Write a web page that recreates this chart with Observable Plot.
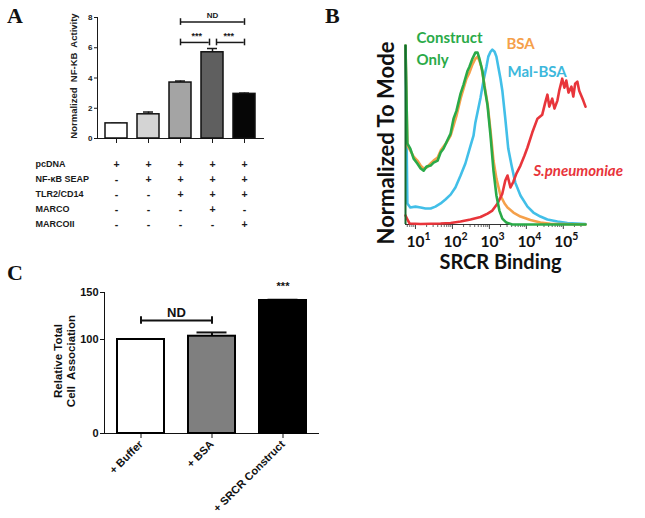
<!DOCTYPE html>
<html><head><meta charset="utf-8">
<script src="https://cdn.jsdelivr.net/npm/d3@7"></script>
<script src="https://cdn.jsdelivr.net/npm/@observablehq/plot@0.6"></script>
<style>
html,body{margin:0;padding:0;background:#fff;overflow:hidden;}
#fig{position:relative;width:645px;height:518px;overflow:hidden;background:#fff;}
.panel{position:absolute;}
.letter{position:absolute;font-family:"Liberation Serif","Times New Roman",serif;font-weight:bold;font-size:22px;line-height:1;color:#111;}
</style></head>
<body><div id="fig">
<div id="pa" class="panel" style="left:0;top:0"></div>
<div id="pt" class="panel" style="left:0;top:145px"></div>
<div id="pb" class="panel" style="left:340px;top:0"></div>
<div id="pc" class="panel" style="left:0;top:270px"></div>
<div class="letter" style="left:7px;top:5px">A</div>
<div class="letter" style="left:325px;top:5px">B</div>
<div class="letter" style="left:7px;top:262px">C</div>
</div>
<script>
// ---------- Panel A data ----------
const aGroups = ["G1","G2","G3","G4","G5"];
const aValues = [1.0, 1.6, 3.7, 5.7, 2.95];
const aErrors = [0.0, 0.15, 0.1, 0.25, 0.05];
const aYTicks = [0, 2, 4, 6, 8];
const aYLabel = "Normalized  NF-KB  Activity";
const tableRows = ["pcDNA", "NF-κB SEAP", "TLR2/CD14", "MARCO", "MARCOII"];
const tableSigns = [
  ["+","+","+","+","+"],
  ["-","+","+","+","+"],
  ["-","-","+","+","+"],
  ["-","-","-","+","-"],
  ["-","-","-","-","+"]
];
// ---------- Panel B data (x as log10 exponent, y as % of mode) ----------
const greenE = [0.73,0.78,0.86,0.95,1.05,1.14,1.22,1.30,1.41,1.49,1.60,1.68,1.76,1.86,1.95,2.03,2.11,2.22,2.30,2.41,2.46,2.54,2.62,2.68,2.73,2.81,2.86,2.95,3.03,3.11,3.19,3.27,3.35,3.46,3.62,5.60];
const greenV = [103,46.6,43.7,37.9,35.1,32.2,31.0,33.3,33.9,35.6,36.8,41.4,43.7,48.3,52.3,60.9,65.5,75.3,80.5,88.5,90.8,95.4,98.9,98.9,95.4,88.5,79.9,68.4,51.1,31.0,16.7,8.0,3.4,1.1,0,0];
const orangeE = [0.73,0.78,0.86,0.95,1.05,1.14,1.22,1.30,1.41,1.49,1.60,1.68,1.76,1.84,1.95,2.03,2.11,2.22,2.30,2.38,2.46,2.54,2.62,2.68,2.73,2.78,2.84,2.89,2.95,3.03,3.11,3.19,3.30,3.41,3.49,3.65,3.84,4.11,4.38,4.65,5.60];
const orangeV = [103,45.4,42.5,39.1,36.8,33.9,32.2,32.8,35.1,36.8,38.5,42.5,44.8,47.1,51.1,56.9,62.6,72.4,78.2,83.9,87.4,92.0,95.4,96.6,94.3,90.8,83.9,77.0,69.5,54.0,36.8,26.4,16.7,12.1,9.8,6.9,4.6,2.6,1.1,0.4,0];
const blueE = [0.73,0.78,0.86,1.0,1.14,1.27,1.41,1.54,1.68,1.81,1.95,2.08,2.22,2.35,2.49,2.57,2.62,2.70,2.76,2.84,2.92,2.97,3.03,3.08,3.14,3.19,3.24,3.30,3.35,3.43,3.51,3.60,3.70,3.84,4.03,4.19,4.38,4.57,4.84,5.11,5.60];
const blueV = [103,12.1,9.8,10.3,9.8,9.2,9.2,10.3,12.1,14.4,17.2,21.3,28.2,35.1,45.4,51.1,58.6,66.7,73.0,82.8,90.8,96.6,99.4,100.6,99.4,96.6,90.8,83.9,77.0,60.9,43.7,33.9,24.1,16.7,10.3,6.9,4.6,2.9,1.7,0.9,0.3];
const redE = [0.73,0.78,0.84,1.14,1.68,1.95,2.22,2.49,2.76,2.95,3.08,3.22,3.35,3.43,3.49,3.57,3.65,3.73,3.84,3.95,4.03,4.16,4.30,4.43,4.51,4.57,4.62,4.70,4.76,4.84,4.89,4.97,5.03,5.08,5.14,5.22,5.27,5.32,5.38,5.43,5.54,5.60];
const redV = [5.2,2.9,0.6,0.3,0.6,0.9,1.7,2.9,4.3,6.3,8.0,12.1,17.8,25.3,28.2,21.3,24.7,29.3,33.9,39.7,44.3,52.9,60.9,63.2,70.1,74.7,67.8,72.4,66.7,71.3,77.0,83.9,78.7,82.8,75.9,79.3,73.6,81.0,82.2,77.0,71.3,67.8];
const bMajorTicks = [10, 100, 1000, 10000, 100000];
const bLabels = ["Construct", "Only", "BSA", "Mal-BSA"];
const bLabelE = [1.03, 1.03, 3.46, 3.49];
const bLabelV = [107.2, 94.8, 104, 87.9];
const bSpnLabel = "S.pneumoniae";
// ---------- Panel C data ----------
const cGroups = ["+ Buffer", "+ BSA", "+ SRCR Construct"];
const cValues = [100, 103.5, 141.5];
const cErrors = [0, 4, 0.8];
const cYTicks = [0, 100, 150];

// ---------- styling ----------
const aPalette = ["#ffffff","#d4d4d4","#a4a4a4","#5f5f5f","#060606"];
const cPalette = ["#ffffff","#7f7f7f","#000000"];
const arial = "'Liberation Sans', Arial, sans-serif";
const lato = "Lato, 'Open Sans', sans-serif";
const GREEN = "#2aaa48", ORANGE = "#f5a04a", BLUE = "#42bfe8", RED = "#e8353b", DKGREEN = "#17692c";

// ---------- Panel A ----------
const aData = aGroups.map((g, i) => ({g, v: aValues[i], e: aErrors[i]}));
const aHalf = 11.25;
const A = Plot.plot({
  width: 290, height: 150,
  marginLeft: 97, marginRight: 27, marginTop: 17, marginBottom: 12,
  style: {background: "transparent", overflow: "visible", fontFamily: arial, fontSize: "8px", fontWeight: "bold", color: "#1a1a1a"},
  x: {type: "band", domain: aGroups, paddingInner: 0.31, paddingOuter: 0.2, tickSize: 5, tickFormat: () => "", label: null, line: true},
  y: {domain: [0, 8], ticks: aYTicks, tickSize: 3, tickPadding: 2, label: null, line: true},
  color: {domain: aGroups, range: aPalette},
  marks: [
    Plot.ruleX(aData, {x: "g", y1: "v", y2: d => d.v + d.e, strokeWidth: 1.5}),
    Plot.tickY(aData, {x: "g", y: d => d.v + d.e, insetLeft: 6, insetRight: 6, strokeWidth: 1.5}),
    Plot.barY(aData, {x: "g", y: "v", fill: "g", stroke: "#111", strokeWidth: 1.5}),
    // brackets
    Plot.ruleY([7.7], {x1: () => "G3", x2: () => "G5", insetLeft: aHalf, insetRight: aHalf, strokeWidth: 1.5}),
    Plot.ruleY([6.35], {x1: () => "G3", x2: () => "G4", insetLeft: aHalf, insetRight: aHalf + 3, strokeWidth: 1.5}),
    Plot.ruleY([6.35], {x1: () => "G4", x2: () => "G5", insetLeft: aHalf + 4, insetRight: aHalf, strokeWidth: 1.5}),
    Plot.ruleX(["G3", "G5"], {x: d => d, y1: 7.48, y2: 7.92, strokeWidth: 1.5}),
    Plot.ruleX(["G3", "G5"], {x: d => d, y1: 6.13, y2: 6.57, strokeWidth: 1.5}),
    Plot.ruleX(["G4"], {x: d => d, y1: 6.13, y2: 6.57, dx: -3, strokeWidth: 1.5}),
    Plot.ruleX(["G4"], {x: d => d, y1: 6.13, y2: 6.57, dx: 4, strokeWidth: 1.5}),
    Plot.text(["ND"], {x: () => "G4", y: 8.15, text: d => d, fontSize: 8, fontWeight: "bold"}),
    Plot.text(["G3", "G4"], {x: d => d, y: 6.75, dx: 16.3, text: () => "***", fontSize: 9, fontWeight: "bold"}),
    Plot.text([aYLabel], {frameAnchor: "left", textAnchor: "middle", rotate: -90, dx: -24, dy: -2, text: d => d, fontSize: 9.5, fontWeight: "bold", fill: "#222"})
  ]
});
document.getElementById("pa").append(A);

// ---------- Panel A table ----------
const tableCells = [];
tableRows.forEach((r, i) => aGroups.forEach((g, j) => tableCells.push({row: r, g, s: tableSigns[i][j]})));
const T = Plot.plot({
  width: 290, height: 100,
  marginLeft: 97, marginRight: 27, marginTop: 10, marginBottom: 13,
  style: {background: "transparent", overflow: "visible", fontFamily: arial, fontWeight: "bold", color: "#1a1a1a"},
  x: {type: "band", domain: aGroups, paddingInner: 0.31, paddingOuter: 0.2, axis: null},
  y: {type: "point", domain: tableRows, axis: null},
  marks: [
    Plot.text(tableCells, {x: "g", y: "row", text: "s", fontSize: 10.5, fontWeight: "bold"}),
    Plot.text(tableRows, {y: d => d, text: d => d, frameAnchor: "left", textAnchor: "start", dx: -62, fontSize: 9, fontWeight: "bold"})
  ]
});
document.getElementById("pt").append(T);

// ---------- Panel B ----------
const toXY = (E, V) => E.map((e, i) => ({x: 10 ** e, y: V[i]}));
const bXDomain = [10 ** 0.73, 10 ** 5.6];
const bMinor = [];
for (let k = 0; k <= 5; k++) for (let m = 2; m <= 9; m++) { const t = m * 10 ** k; if (t > bXDomain[0] && t < bXDomain[1]) bMinor.push(t); }
const bLabelData = bLabels.map((t, i) => ({t, x: 10 ** bLabelE[i], y: bLabelV[i]}));
const bLabelColors = [GREEN, GREEN, ORANGE, "#3db8dc"];
const B = Plot.plot({
  width: 305, height: 290,
  marginLeft: 65, marginRight: 60, marginTop: 45, marginBottom: 66,
  style: {background: "transparent", overflow: "visible", fontFamily: lato, fontWeight: "bold", color: "#111"},
  x: {type: "log", domain: bXDomain, axis: null},
  y: {domain: [0, 103], axis: null},
  color: {domain: bLabels, range: bLabelColors},
  marks: [
    Plot.axisX({ticks: bMinor, tickSize: 3, tickFormat: () => "", label: null, stroke: "#666"}),
    Plot.axisX({ticks: bMajorTicks, tickSize: 5, tickPadding: 6, tickFormat: () => "10", label: null, fontSize: 15.5, fontWeight: "bold", stroke: "#444"}),
    Plot.text(bMajorTicks, {x: d => d, frameAnchor: "bottom", dy: 15, dx: 9, textAnchor: "start", text: d => String(Math.round(Math.log10(d))), fontSize: 10.5, fontWeight: "bold"}),
    Plot.ruleY([0], {stroke: "#333", strokeWidth: 1.2}),
    Plot.line(toXY(blueE, blueV), {x: "x", y: "y", stroke: BLUE, strokeWidth: 2.6}),
    Plot.line(toXY(orangeE, orangeV), {x: "x", y: "y", stroke: ORANGE, strokeWidth: 2.6}),
    Plot.line(toXY(redE, redV), {x: "x", y: "y", stroke: RED, strokeWidth: 2.6}),
    Plot.line(toXY(greenE, greenV), {x: "x", y: "y", stroke: GREEN, strokeWidth: 2.6}),
    Plot.ruleX([bXDomain[0]], {y1: 0, y2: 103, stroke: DKGREEN, strokeWidth: 2}),
    Plot.text(bLabelData, {x: "x", y: "y", text: "t", fill: "t", textAnchor: "start", fontSize: 15, fontWeight: "bold"}),
    Plot.text([bSpnLabel], {x: () => 10 ** 4.19, y: () => 30.5, text: d => d, fill: RED, textAnchor: "start", fontSize: 15, fontWeight: "bold", fontStyle: "italic"}),
    Plot.text(["SRCR Binding"], {frameAnchor: "bottom", dy: 44, dx: 5, text: d => d, fontSize: 20, fontWeight: "bold"}),
    Plot.text(["Normalized To Mode"], {frameAnchor: "left", textAnchor: "middle", rotate: -90, dx: -19, dy: 8, text: d => d, fontSize: 22, fontWeight: "bold"})
  ]
});
document.getElementById("pb").append(B);

// ---------- Panel C ----------
const cData = cGroups.map((g, i) => ({g, v: cValues[i], e: cErrors[i]}));
const cHalf = 23.45;
const C = Plot.plot({
  width: 330, height: 248,
  marginLeft: 104, marginRight: 12, marginTop: 22, marginBottom: 85,
  style: {background: "transparent", overflow: "visible", fontFamily: arial, fontSize: "11px", fontWeight: "bold", color: "#111"},
  x: {type: "band", domain: cGroups, paddingInner: 0.34, paddingOuter: 0.176, tickSize: 5, tickRotate: -45, tickPadding: 4, label: null, line: true},
  y: {domain: [0, 150], ticks: cYTicks, tickSize: 4, tickPadding: 2, label: null, line: true},
  color: {domain: cGroups, range: cPalette},
  marks: [
    Plot.ruleX(cData, {x: "g", y1: "v", y2: d => d.v + d.e, strokeWidth: 2}),
    Plot.tickY(cData, {x: "g", y: d => d.v + d.e, insetLeft: 8.5, insetRight: 8.5, strokeWidth: 2}),
    Plot.barY(cData, {x: "g", y: "v", fill: "g", stroke: "#000", strokeWidth: 2}),
    Plot.ruleY([120.2], {x1: () => cGroups[0], x2: () => cGroups[1], insetLeft: cHalf, insetRight: cHalf, strokeWidth: 2}),
    Plot.ruleX([cGroups[0], cGroups[1]], {x: d => d, y1: 116.2, y2: 124.2, strokeWidth: 2}),
    Plot.text(["ND"], {x: () => cGroups[0], y: 128.7, dx: 35.5, text: d => d, fontSize: 13, fontWeight: "bold"}),
    Plot.text(["***"], {x: () => cGroups[2], y: 156, text: d => d, fontSize: 11, fontWeight: "bold"}),
    Plot.text(["Relative Total\nCell  Association"], {frameAnchor: "left", textAnchor: "middle", rotate: -90, dx: -40, dy: -2, text: d => d, fontSize: 11.5, lineHeight: 1.1, fontWeight: "bold"})
  ]
});
document.getElementById("pc").append(C);
</script>
</body></html>
